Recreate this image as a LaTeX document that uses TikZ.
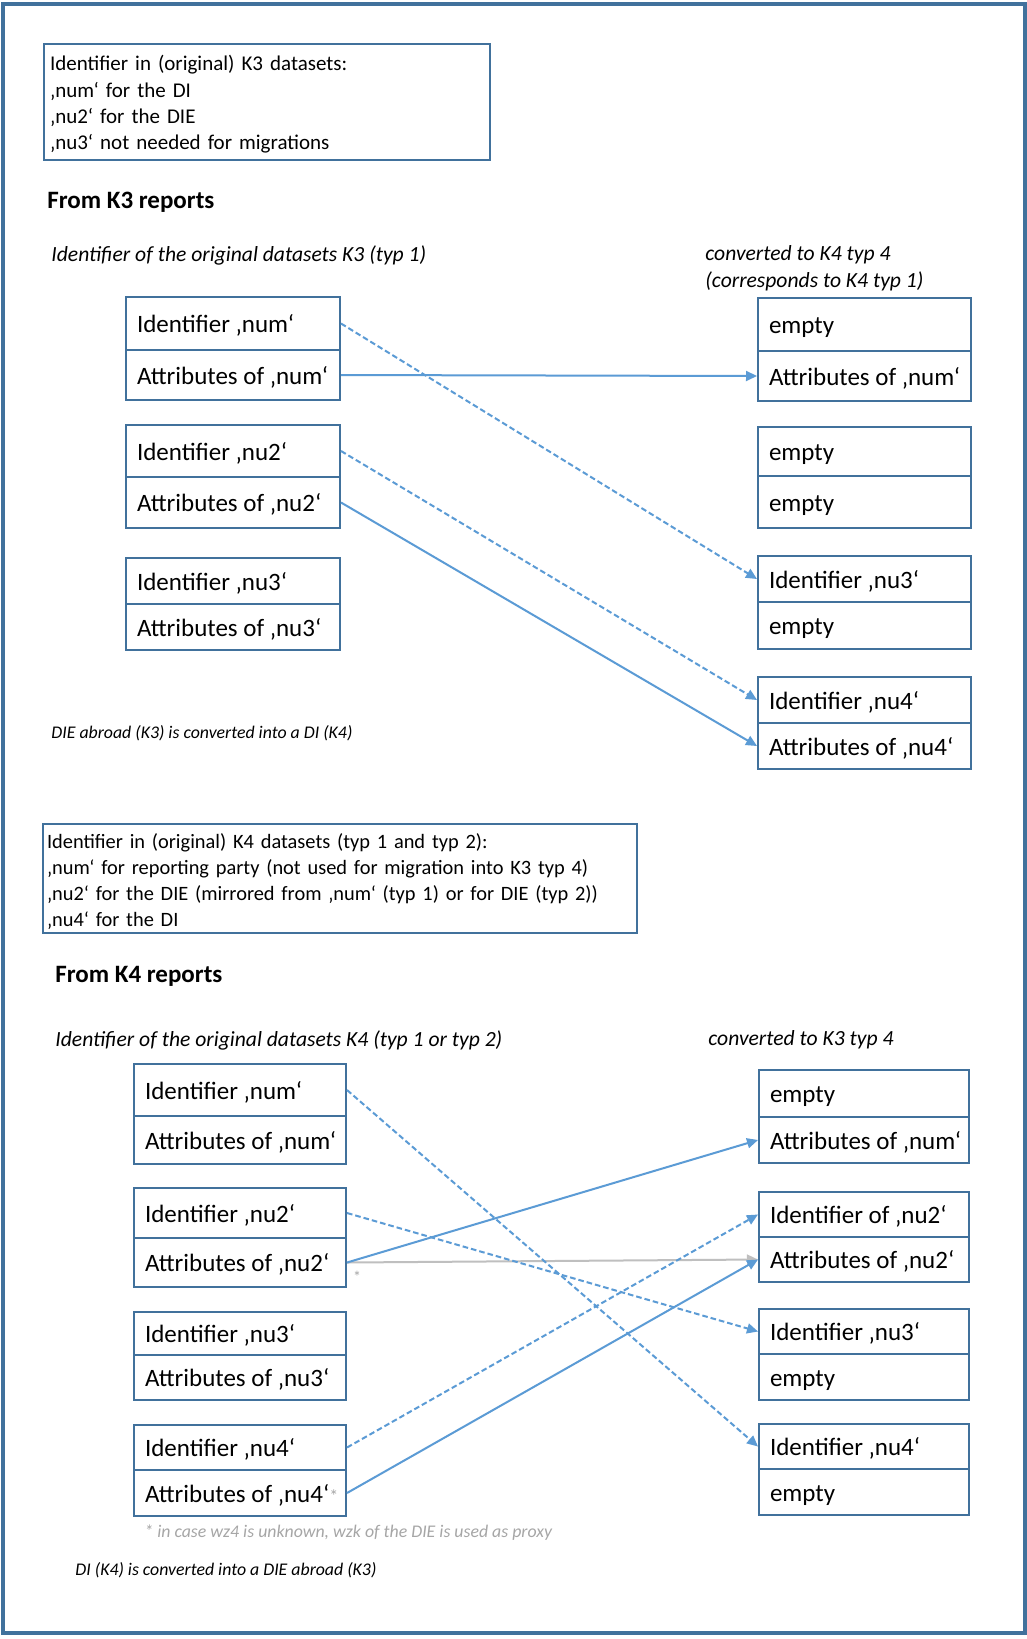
\documentclass[tikz,border=0pt]{standalone}
\usepackage{fontspec}
\setmainfont{Carlito}
\usetikzlibrary{arrows.meta}
\definecolor{framec}{RGB}{65,113,156}
\definecolor{boxc}{RGB}{65,113,156}
\definecolor{arrc}{RGB}{91,155,213}
\definecolor{grayarr}{RGB}{191,191,191}
\definecolor{notec}{RGB}{166,166,166}
\newcommand\cell[2]{\makebox[#1][l]{#2}}
\begin{document}
\begin{tikzpicture}[x=0.5pt,y=-0.5pt,
  row/.style={draw=boxc, line width=1pt, anchor=north west, inner xsep=5.5pt, inner ysep=0pt,
    text height=10.5pt, text depth=1.5pt, font=\fontsize{12.5}{15}\selectfont},
  info/.style={draw=boxc, line width=1pt, align=left, inner ysep=0pt},
  head/.style={anchor=west, inner sep=0pt, font=\fontsize{12.5}{15}\selectfont\bfseries},
  sub/.style={anchor=west, inner sep=0pt, font=\fontsize{10.8}{13.5}\selectfont\itshape, align=left},
  small/.style={anchor=west, inner sep=0pt, font=\fontsize{8.9}{11}\selectfont\itshape},
  arr/.style={draw=arrc, line width=1pt, -{Triangle[length=5.5pt,width=5pt]}},
  garr/.style={draw=grayarr, line width=1pt, -{Triangle[length=5.5pt,width=5pt]}},
  dsh/.style={dash pattern=on 2.8pt off 1.5pt},
]
\fill[white] (0,0) rectangle (1027,1639);
\useasboundingbox (0,0) rectangle (1027,1639);
\draw[framec, line width=2pt] (2.5,4) rectangle (1025,1633);

% ---------- K3 part ----------
\node[info, text width=217pt, minimum height=58pt, inner xsep=3pt,
  font=\fontsize{10.5}{13.1}\selectfont] (info3) at (267,102)
  {\rule{0pt}{10pt}Identifier in (original) K3 datasets:\\‚num‘ for the DI\\‚nu2‘ for the DIE\\‚nu3‘ not needed for migrations};
\node[head] (h3) at (47,202) {From K3 reports};
\node[sub] (s3l) at (51,255) {Identifier of the original datasets K3 (typ 1)};
\node[sub] (s3r) at (705,268.5) {converted to K4 typ 4\\(corresponds to K4 typ 1)};

\node[row, minimum height=26.5pt] (a1i) at (125,296) {\cell{96pt}{Identifier ‚num‘}};
\node[row, minimum height=25pt]   (a1a) at (125,349) {\cell{96pt}{Attributes of ‚num‘}};
\node[row, minimum height=26pt]   (a2i) at (125,424) {\cell{96pt}{Identifier ‚nu2‘}};
\node[row, minimum height=25.5pt] (a2a) at (125,476) {\cell{96pt}{Attributes of ‚nu2‘}};
\node[row, minimum height=23pt]   (a3i) at (125,557) {\cell{96pt}{Identifier ‚nu3‘}};
\node[row, minimum height=23pt]   (a3a) at (125,603) {\cell{96pt}{Attributes of ‚nu3‘}};

\node[row, minimum height=26.5pt] (b1i) at (757,297) {\cell{95.5pt}{empty}};
\node[row, minimum height=25pt]   (b1a) at (757,350) {\cell{95.5pt}{Attributes of ‚num‘}};
\node[row, minimum height=24.5pt] (b2i) at (757,426) {\cell{95.5pt}{empty}};
\node[row, minimum height=26pt]   (b2a) at (757,475) {\cell{95.5pt}{empty}};
\node[row, minimum height=23pt]   (b3i) at (757,555) {\cell{95.5pt}{Identifier ‚nu3‘}};
\node[row, minimum height=23.5pt] (b3a) at (757,601) {\cell{95.5pt}{empty}};
\node[row, minimum height=23pt]   (b4i) at (757,676) {\cell{95.5pt}{Identifier ‚nu4‘}};
\node[row, minimum height=23pt]   (b4a) at (757,722) {\cell{95.5pt}{Attributes of ‚nu4‘}};

\draw[arr, dsh] (a1i.east) -- (b3i.west);
\draw[arr] (a1a.east) -- (b1a.west);
\draw[arr, dsh] (a2i.east) -- (b4i.west);
\draw[arr] (a2a.east) -- (b4a.west);

\node[small] (n3) at (51,733) {DIE abroad (K3) is converted into a DI (K4)};

% ---------- K4 part ----------
\node[info, text width=293pt, minimum height=54.5pt, inner xsep=2pt,
  font=\fontsize{10.2}{12.85}\selectfont] (info4) at (340,878.5)
  {\rule{0pt}{10.5pt}Identifier in (original) K4 datasets (typ 1 and typ 2):\\‚num‘ for reporting party (not used for migration into K3 typ 4)\\‚nu2‘ for the DIE (mirrored from ‚num‘ (typ 1) or for DIE (typ 2))\\‚nu4‘ for the DI};
\node[head] (h4) at (55,976) {From K4 reports};
\node[sub] (s4l) at (55,1040) {Identifier of the original datasets K4 (typ 1 or typ 2)};
\node[sub] (s4r) at (708,1040) {converted to K3 typ 4};

\node[row, minimum height=26pt]   (c1i) at (133,1063) {\cell{95pt}{Identifier ‚num‘}};
\node[row, minimum height=24pt]   (c1a) at (133,1115) {\cell{95pt}{Attributes of ‚num‘}};
\node[row, minimum height=25pt]   (c2i) at (133,1187) {\cell{95pt}{Identifier ‚nu2‘}};
\node[row, minimum height=24.5pt] (c2a) at (133,1237) {\cell{95pt}{Attributes of ‚nu2‘}};
\node[row, minimum height=21.5pt] (c3i) at (133,1311) {\cell{95pt}{Identifier ‚nu3‘}};
\node[row, minimum height=22.5pt] (c3a) at (133,1354) {\cell{95pt}{Attributes of ‚nu3‘}};
\node[row, minimum height=22.5pt] (c4i) at (133,1424) {\cell{95pt}{Identifier ‚nu4‘}};
\node[row, minimum height=23pt]   (c4a) at (133,1469) {\cell{95pt}{Attributes of ‚nu4‘\textcolor{notec}{\fontsize{9}{9}\selectfont *}}};

\node[row, minimum height=23.5pt] (d1i) at (758,1069) {\cell{94pt}{empty}};
\node[row, minimum height=23pt]   (d1a) at (758,1116) {\cell{94pt}{Attributes of ‚num‘}};
\node[row, minimum height=22.5pt] (d2i) at (758,1191) {\cell{94pt}{Identifier of ‚nu2‘}};
\node[row, minimum height=22.5pt] (d2a) at (758,1236) {\cell{94pt}{Attributes of ‚nu2‘}};
\node[row, minimum height=22.5pt] (d3i) at (758,1308) {\cell{94pt}{Identifier ‚nu3‘}};
\node[row, minimum height=23pt]   (d3a) at (758,1353) {\cell{94pt}{empty}};
\node[row, minimum height=22.5pt] (d4i) at (758,1423) {\cell{94pt}{Identifier ‚nu4‘}};
\node[row, minimum height=23pt]   (d4a) at (758,1468) {\cell{94pt}{empty}};

\draw[garr] (c2a.east) -- (d2a.west);
\draw[arr, dsh] (c1i.east) -- (d4i.west);
\draw[arr] (c2a.east) -- (d1a.west);
\draw[arr, dsh] (c2i.east) -- (d3i.west);
\draw[arr, dsh] (c4i.east) -- (d2i.west);
\draw[arr] (c4a.east) -- (d2a.west);

\node[inner sep=0pt, text=notec, font=\fontsize{8}{8}\selectfont] (st) at (357,1277) {*};
\node[small, text=notec] (fn) at (144,1533) {* in case wz4 is unknown, wzk of the DIE is used as proxy};
\node[small] (n4) at (75,1570) {DI (K4) is converted into a DIE abroad (K3)};
\end{tikzpicture}
\end{document}
